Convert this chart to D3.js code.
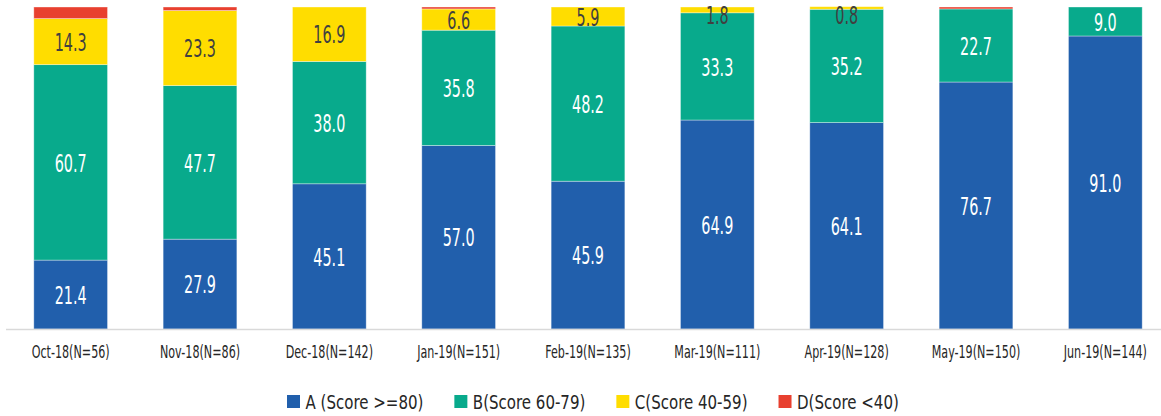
<!DOCTYPE html>
<html>
<head>
<meta charset="utf-8">
<script src="https://cdn.jsdelivr.net/npm/d3@7"></script>
<style>
  html, body { margin: 0; padding: 0; background: #fff; }
  svg { display: block; }
  text { font-family: "Liberation Sans Narrow", "DejaVu Sans Condensed", "Liberation Sans", sans-serif; }
</style>
</head>
<body>
<svg id="chart" width="1161" height="416"></svg>
<script>
// Monthly score-band distribution (percent of assessments)
const categories = ["Oct-18(N=56)", "Nov-18(N=86)", "Dec-18(N=142)", "Jan-19(N=151)", "Feb-19(N=135)",
                    "Mar-19(N=111)", "Apr-19(N=128)", "May-19(N=150)", "Jun-19(N=144)"];
const seriesNames = ["A (Score >=80)", "B(Score 60-79)", "C(Score 40-59)", "D(Score <40)"];
const gradeA = [21.4, 27.9, 45.1, 57.0, 45.9, 64.9, 64.1, 76.7, 91.0];
const gradeB = [60.7, 47.7, 38.0, 35.8, 48.2, 33.3, 35.2, 22.7, 9.0];
const gradeC = [14.3, 23.3, 16.9, 6.6, 5.9, 1.8, 0.8, 0, 0];
const gradeD = [3.6, 1.1, 0, 0.6, 0, 0, 0, 0.6, 0];

const colors = ["#215FAC", "#08AA8C", "#FFDD00", "#E8402F"];
const labelColors = ["#ffffff", "#ffffff", "#404040", null];

const svg = d3.select("#chart");

// horizontal squeeze so the installed font reads like a narrow display face
function squeeze(samples, size, targetWidth) {
  let w = 0;
  samples.forEach(s => {
    const probe = svg.append("text").attr("font-size", size).text(s);
    w += probe.node().getComputedTextLength();
    probe.remove();
  });
  return Math.min(1, targetWidth / w);
}
const valueScale = squeeze(["60.7"], 25.6, 32);
const tickScale = squeeze(["Oct-18(N=56)"], 17.4, 78);
const legendScale = squeeze(seriesNames, 19.9, 445);

const x = d3.scaleBand()
  .domain(categories)
  .range([6, 1170])
  .paddingInner(0.43)
  .paddingOuter(0.215);

const y = d3.scaleLinear().domain([0, 100]).range([329, 7]);

const rows = categories.map((c, i) => ({
  cat: c,
  s0: gradeA[i], s1: gradeB[i], s2: gradeC[i], s3: gradeD[i]
}));
const stacked = d3.stack().keys(["s0", "s1", "s2", "s3"])(rows);

// stacked segments
const layers = svg.append("g").selectAll("g")
  .data(stacked)
  .join("g")
  .attr("fill", (d, i) => colors[i]);

layers.selectAll("rect")
  .data(d => d.filter(p => p[1] - p[0] > 0))
  .join("rect")
  .attr("x", d => x(d.data.cat))
  .attr("width", x.bandwidth())
  .attr("y", d => y(d[1]))
  .attr("height", d => y(d[0]) - y(d[1]))
  .attr("stroke", "#ffffff")
  .attr("stroke-opacity", 0.45)
  .attr("stroke-width", 0.8);

// value labels inside segments (D band is not labelled); thin top slivers
// get their label nudged down so it stays inside the drawing area
stacked.forEach((layer, i) => {
  if (!labelColors[i]) return;
  svg.append("g").selectAll("text")
    .data(layer.filter(p => p[1] - p[0] > 0))
    .join("text")
    .attr("transform", d => {
      const cy = Math.max(15, (y(d[0]) + y(d[1])) / 2);
      return `translate(${x(d.data.cat) + x.bandwidth() / 2},${cy}) scale(${valueScale},1)`;
    })
    .attr("text-anchor", "middle")
    .attr("dy", "0.36em")
    .attr("font-size", 25.6)
    .attr("fill", labelColors[i])
    .text(d => (d[1] - d[0]).toFixed(1));
});

// category axis
const axis = svg.append("g")
  .attr("transform", `translate(0,${y(0)})`)
  .call(d3.axisBottom(x).tickSize(0).tickPadding(0));
axis.select(".domain").remove();
axis.selectAll("text")
  .attr("y", 0)
  .attr("dy", 0)
  .attr("transform", `translate(0,28.7) scale(${tickScale},1)`)
  .attr("font-size", 17.4)
  .attr("font-family", null)
  .attr("fill", "#262626");

svg.append("line")
  .attr("x1", 6).attr("x2", 1161)
  .attr("y1", y(0) + 0.5).attr("y2", y(0) + 0.5)
  .attr("stroke", "#d9d9d9")
  .attr("stroke-width", 1.5);

// legend
const legend = svg.append("g").attr("transform", "translate(287,395)");
let lx = 0;
seriesNames.forEach((name, i) => {
  const g = legend.append("g").attr("transform", `translate(${lx},0)`);
  g.append("rect").attr("width", 13).attr("height", 13).attr("fill", colors[i]);
  const t = g.append("text")
    .attr("transform", `translate(18.5,13.5) scale(${legendScale},1)`)
    .attr("font-size", 19.9)
    .attr("fill", "#262626")
    .text(name);
  lx += 18.5 + t.node().getComputedTextLength() * legendScale + 31;
});
</script>
</body>
</html>
